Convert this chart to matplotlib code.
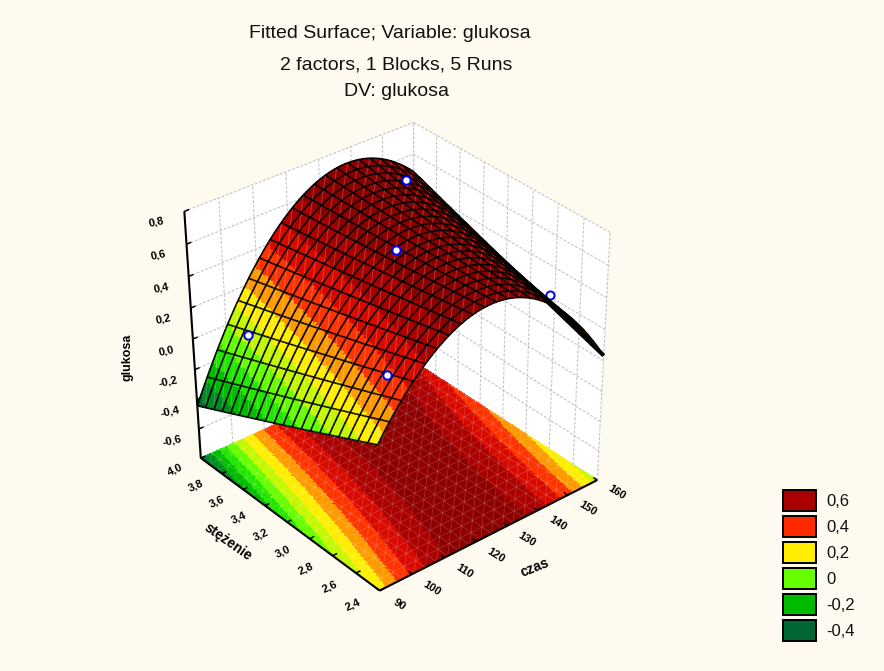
import numpy as np
import matplotlib
matplotlib.use("Agg")
import matplotlib.pyplot as plt
from matplotlib.colors import ListedColormap, BoundaryNorm
from matplotlib.patches import Rectangle
from mpl_toolkits.mplot3d.art3d import Poly3DCollection, Line3DCollection

plt.rcParams['font.family'] = ['Liberation Sans', 'DejaVu Sans']

title_lines = ["Fitted Surface; Variable: glukosa", "2 factors, 1 Blocks, 5 Runs", "DV: glukosa"]
u_ticks = [2.4, 2.6, 2.8, 3.0, 3.2, 3.4, 3.6, 3.8, 4.0]
v_ticks = [90, 100, 110, 120, 130, 140, 150, 160]
z_ticks = [-0.8, -0.6, -0.4, -0.2, 0.0, 0.2, 0.4, 0.6, 0.8]
xlabel_u = "stężenie"
xlabel_v = "czas"
xlabel_z = "glukosa"

# surface heights (rows: u, columns: v)
table_u = [2.4, 2.8, 3.2, 3.6, 4.0]
table_v = [90, 107.5, 125, 142.5, 160]
table_z = [[ 0.15, 0.56, 0.68, 0.50, 0.04],
           [ 0.00, 0.47, 0.66, 0.55, 0.15],
           [-0.15, 0.39, 0.64, 0.60, 0.26],
           [-0.30, 0.32, 0.64, 0.64, 0.37],
           [-0.46, 0.25, 0.63, 0.70, 0.48]]

# the five runs
run_u = [2.6, 3.8, 3.2, 3.8, 2.6]
run_v = [100, 100, 125, 150, 150]
run_z = [0.37, 0.03, 0.63, 0.60, 0.41]
run_behind = [False, False, False, False, True]

band_edges = [-1.0, -0.4, -0.3, -0.2, -0.1, 0.0, 0.1, 0.2, 0.3, 0.4, 0.5, 0.6, 1.0]
band_colors = ['#006633', '#008A22', '#00BB00', '#22E600', '#66FF00', '#C4F800',
               '#FFEE00', '#FF9900', '#FF3300', '#D80A00', '#AA0000', '#8E0000']
legend_values = ["0,6", "0,4", "0,2", "0", "-0,2", "-0,4"]
legend_colors = ['#AA0000', '#FF2A00', '#FFEE00', '#66FF00', '#00BB00', '#006633']

# box corners on the canvas: (t along v, s along u, h along z) -> pixel
CORNERS = [((0, 0, 0), (382, 592)), ((0, 1, 0), (198, 454)), ((1, 0, 0), (597, 477)), ((1, 1, 0), (415, 367)),
           ((0, 0, 1), (374, 340)), ((0, 1, 1), (187, 210)), ((1, 0, 1), (610, 230)), ((1, 1, 1), (413, 122))]

W, H = 884, 671
fig = plt.figure(figsize=(W / 100, H / 100), dpi=100, facecolor='#FEFAF0')
ax = fig.add_axes([0.1, 0.1, 0.6, 0.6 * W / H], projection='3d', computed_zorder=False)
ax.set_axis_off()
ax.patch.set_alpha(0)
u0, u1, v0, v1, z0, z1 = u_ticks[0], u_ticks[-1], v_ticks[0], v_ticks[-1], z_ticks[0], z_ticks[-1]
du, dv, dz = u1 - u0, v1 - v0, z1 - z0
ax.set_xlim(v0, v1, view_margin=0)
ax.set_ylim(u0, u1, view_margin=0)
ax.set_zlim(z0, z1, view_margin=0)

# camera fitted to the box corners
rows = []
for (t, s, h), (px_, py_) in CORNERS:
    X = np.array([t, s, h, 1.0])
    rows.append(np.r_[X, np.zeros(4), -px_ / 1000 * X])
    rows.append(np.r_[np.zeros(4), X, -py_ / 1000 * X])
P = np.linalg.svd(np.array(rows))[2][-1].reshape(3, 4)
P = P / P[2, 3]
P[:2] *= 1000
cam = np.linalg.svd(P)[2][-1]
cam = cam[:3] / cam[3]
centre = np.array([0.5, 0.5, 0.5])
axis_dir = (cam - centre) / np.linalg.norm(cam - centre)
depth_row = np.r_[-axis_dir, axis_dir @ centre]

ax.apply_aspect()
inv = ax.transData.inverted()
q0 = inv.transform((0, H))
q1 = inv.transform((1, H - 1))
A = np.array([[q1[0] - q0[0], 0, q0[0]], [0, q1[1] - q0[1], q0[1]], [0, 0, 1]])
Pv = A @ P
Mn = np.vstack([Pv[0], Pv[1], depth_row, Pv[2]])
Norm = np.array([[1 / dv, 0, 0, -v0 / dv], [0, 1 / du, 0, -u0 / du], [0, 0, 1 / dz, -z0 / dz], [0, 0, 0, 1]])
M = Mn @ Norm
ax.get_proj = lambda: M

def to_pixel(v, u, z):
    X = P @ (Norm @ np.array([v, u, z, 1.0]))
    return X[0] / X[2], X[1] / X[2]

# refine the read table by a second-order fit, as the original fitted surface does
tu, tv = np.meshgrid(table_u, table_v, indexing='ij')
def basis(u, v):
    u, v = np.ravel(u), np.ravel(v)
    return np.column_stack([np.ones_like(u), u, v, u * u, v * v, u * v])
coef, *_ = np.linalg.lstsq(basis((tu - 3.2) / 0.8, (tv - 125) / 35), np.ravel(table_z), rcond=None)
def zfit(u, v):
    u, v = np.asarray(u, float), np.asarray(v, float)
    return (basis((u - 3.2) / 0.8, (v - 125) / 35) @ coef).reshape(u.shape)

# walls
wall_kw = dict(facecolor='white', edgecolor='none', zorder=1)
ax.add_collection3d(Poly3DCollection([[(v0, u1, z0), (v1, u1, z0), (v1, u1, z1), (v0, u1, z1)]], **wall_kw))
ax.add_collection3d(Poly3DCollection([[(v1, u0, z0), (v1, u1, z0), (v1, u1, z1), (v1, u0, z1)]], **wall_kw))
grid = []
for z in z_ticks:
    grid.append([(v0, u1, z), (v1, u1, z)])
    grid.append([(v1, u0, z), (v1, u1, z)])
for v in v_ticks:
    grid.append([(v, u1, z0), (v, u1, z1)])
for u in u_ticks:
    grid.append([(v1, u, z0), (v1, u, z1)])
ax.add_collection3d(Line3DCollection(grid, colors='#C4C4C4', linewidths=0.8, linestyles=(0, (2.5, 1.5)), zorder=2))

# colouring
cmap = ListedColormap(band_colors)
norm = BoundaryNorm(band_edges, cmap.N)
N = 170
ufine = np.linspace(u0, u1, N + 1)
vfine = np.linspace(v0, v1, N + 1)
UF, VF = np.meshgrid(ufine, vfine, indexing='ij')
ZF = zfit(UF, VF)
Zc = 0.25 * (ZF[:-1, :-1] + ZF[1:, :-1] + ZF[:-1, 1:] + ZF[1:, 1:])
fc = cmap(norm(Zc))

# floor
ax.plot_surface(VF, UF, np.full_like(ZF, z0), facecolors=fc, rcount=N + 1, ccount=N + 1, shade=False,
                linewidth=0, antialiased=False, zorder=3)

# visibility of surface points along the line of sight to the fitted camera
def visible(u, v, z):
    p = np.array([(v - v0) / dv, (u - u0) / du, (z - z0) / dz])
    d = (cam - p) / np.linalg.norm(cam - p)
    lam = np.linspace(0.012, 2.0, 160)
    px_ = p[0] + lam * d[0]
    py_ = p[1] + lam * d[1]
    pz_ = p[2] + lam * d[2]
    inside = (px_ >= 0) & (px_ <= 1) & (py_ >= 0) & (py_ <= 1)
    hs = (zfit(u0 + py_ * du, v0 + px_ * dv) - z0) / dz
    return not np.any(inside & (hs > pz_ + 0.03))

# mesh of the floor (faint triangles)
CELLS = 20
uc = np.linspace(u0, u1, CELLS + 1)
vc = np.linspace(v0, v1, CELLS + 1)
faint = []
for i in range(CELLS + 1):
    faint.append([(v0, uc[i], z0), (v1, uc[i], z0)])
    faint.append([(vc[i], u0, z0), (vc[i], u1, z0)])
for k in range(-CELLS, CELLS + 1):
    i0, i1 = max(0, -k), min(CELLS, CELLS - k)
    faint.append([(vc[i0 + k], uc[i0], z0), (vc[i1 + k], uc[i1], z0)])
ax.add_collection3d(Line3DCollection(faint, colors=(1, 1, 1, 0.18), linewidths=0.6, zorder=3.5))

# runs partly hidden by the surface
marker_kw = dict(marker='o', s=34, facecolors='white', edgecolors='#0000FF', linewidths=1.4, depthshade=False)
beh = np.array(run_behind)
ax.scatter(np.array(run_v)[beh], np.array(run_u)[beh], np.array(run_z)[beh], zorder=4, **marker_kw)

# fitted surface
ax.plot_surface(VF, UF, ZF, facecolors=fc, rcount=N + 1, ccount=N + 1, shade=False,
                linewidth=0, antialiased=False, zorder=5)

# faint facets on the surface
facet = []
for i in range(CELLS):
    for j in range(CELLS):
        a = (vc[j], uc[i], float(zfit(uc[i], vc[j])))
        b = (vc[j + 1], uc[i + 1], float(zfit(uc[i + 1], vc[j + 1])))
        if visible(0.5 * (uc[i] + uc[i + 1]), 0.5 * (vc[j] + vc[j + 1]), 0.5 * (a[2] + b[2])):
            facet.append([a, b])
ax.add_collection3d(Line3DCollection(facet, colors=(1, 1, 1, 0.22), linewidths=0.7, zorder=5.5))

# wire grid, hidden parts removed
sub = 6
segs = []
for i in range(CELLS + 1):
    for j in range(CELLS * sub):
        vv = v0 + dv * np.array([j, j + 1]) / (CELLS * sub)
        uu = np.full(2, uc[i])
        zz = zfit(uu, vv)
        if visible(uu.mean(), vv.mean(), zz.mean()):
            segs.append(list(zip(vv, uu, zz)))
        uu2 = u0 + du * np.array([j, j + 1]) / (CELLS * sub)
        vv2 = np.full(2, vc[i])
        zz2 = zfit(uu2, vv2)
        if visible(uu2.mean(), vv2.mean(), zz2.mean()):
            segs.append(list(zip(vv2, uu2, zz2)))
ax.add_collection3d(Line3DCollection(segs, colors='black', linewidths=1.2, zorder=6))

# the crowded grazing end of the surface merges into a heavy black rim
rim_u = np.linspace(u0, u0 + 0.38 * du, 30)
rim_v = np.full_like(rim_u, v1)
rim_line = list(zip(rim_v, rim_u, zfit(rim_u, rim_v)))
ax.add_collection3d(Line3DCollection([rim_line], colors='black', linewidths=3.0, zorder=6))

# axis lines and ticks
axes_segs = [[(v0, u0, z0), (v1, u0, z0)], [(v0, u0, z0), (v0, u1, z0)], [(v0, u1, z0), (v0, u1, z1)]]
ax.add_collection3d(Line3DCollection(axes_segs, colors='black', linewidths=1.5, zorder=8))
tick_segs = []
text_kw = dict(fontsize=8, fontweight='bold', ha='center', va='center')
def fmt(x):
    return f"{x:.1f}".replace('.', ',')
def label3d(v, u, z, text, rotation):
    x, y = to_pixel(v, u, z)
    fig.text(x / W, 1 - y / H, text, rotation=rotation, **text_kw)
for u in u_ticks:
    tick_segs.append([(v0, u, z0), (v0 + 0.02 * dv, u, z0)])
    label3d(v0 - 0.115 * dv, u, z0, fmt(u), 25)
for v in v_ticks:
    tick_segs.append([(v, u0, z0), (v, u0 + 0.02 * du, z0)])
    label3d(v, u0 - 0.1 * du, z0, str(v), -32)
for z in z_ticks[1:]:
    tick_segs.append([(v0, u1, z), (v0 + 0.02 * dv, u1, z)])
    label3d(v0 - 0.115 * dv, u1, z, fmt(z), 12)
ax.add_collection3d(Line3DCollection(tick_segs, colors='black', linewidths=1.1, zorder=8))

# runs in front of the surface, on an overlay with canvas pixel scales
over = fig.add_axes([0, 0, 1, 1])
over.set_xlim(0, W)
over.set_ylim(H, 0)
over.axis('off')
over.patch.set_alpha(0)
front = [to_pixel(vv, uu, zz) for uu, vv, zz, b in zip(run_u, run_v, run_z, run_behind) if not b]
over.plot([p[0] for p in front], [p[1] for p in front], linestyle='none', marker='o', ms=6,
          mfc='white', mec='#0000FF', mew=1.4)

# titles
title_xy = [(389.5, 34), (396, 65), (396, 91)]
for line, (x, y) in zip(title_lines, title_xy):
    fig.text(x / W, 1 - y / H, line, ha='center', va='center', fontsize=14, color='#111111')
fig.text(228 / W, 1 - 542 / H, xlabel_u, rotation=-35, ha='center', va='center', fontsize=10, fontweight='bold')
fig.text(535 / W, 1 - 568 / H, xlabel_v, rotation=22, ha='center', va='center', fontsize=10, fontweight='bold')
fig.text(128 / W, 1 - 357 / H, xlabel_z, rotation=90, ha='center', va='center', fontsize=9, fontweight='bold')

# legend
for i, (lab, col) in enumerate(zip(legend_values, legend_colors)):
    top = 490 + 26 * i
    fig.add_artist(Rectangle((782.5 / W, 1 - (top + 21) / H), 33 / W, 21 / H, transform=fig.transFigure,
                             facecolor=col, edgecolor='black', linewidth=1.4))
    fig.text(826 / W, 1 - (top + 11) / H, lab, ha='left', va='center', fontsize=12, color='#111111')

fig.savefig('out.png', dpi=100, facecolor=fig.get_facecolor())
